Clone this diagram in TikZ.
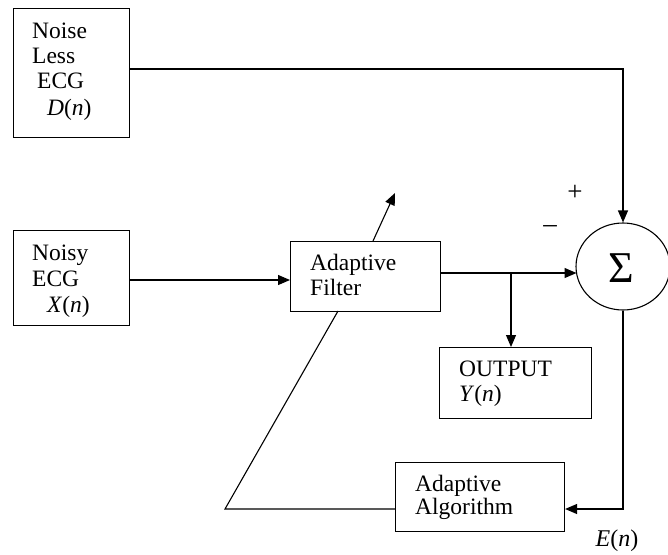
\documentclass[tikz,border=0pt]{standalone}
\usepackage{fontspec}
\setmainfont{Liberation Serif}
\usetikzlibrary{arrows.meta,shapes.geometric}
\begin{document}
\begin{tikzpicture}[x=1pt,y=-1pt,
  box/.style={draw,line width=1.1pt,inner sep=0pt,anchor=north west},
  lbl/.style={anchor=base west,inner sep=0pt,font=\fontsize{23.5}{25}\selectfont},
  ln/.style={line width=1.1pt},
  arr/.style={line width=1.1pt,-{Triangle[length=12pt,width=10pt]}}]
\useasboundingbox (0,0) rectangle (668,554);
% boxes
\node[box,minimum width=116pt,minimum height=129pt] (nl) at (13,8) {};
\node[box,minimum width=116pt,minimum height=95pt] (nx) at (13,230) {};
\node[box,minimum width=150pt,minimum height=70pt] (af) at (290,241) {};
\node[box,minimum width=152pt,minimum height=71pt] (out) at (439,347) {};
\node[box,minimum width=169pt,minimum height=69pt] (alg) at (395,462) {};
\node[draw,ellipse,line width=1.1pt,minimum width=94pt,minimum height=87pt,inner sep=0pt] (sum) at (623,266.5) {};
% texts
\node[lbl] (t1) at (32,38) {Noise};
\node[lbl] (t2) at (32,63) {Less};
\node[lbl] (t3) at (37,88) {ECG};
\node[lbl] (t4) at (47,115) {\textit{D}(\textit{n})};
\node[lbl] (t5) at (32,260) {Noisy};
\node[lbl] (t6) at (32,286) {ECG};
\node[lbl] (t7) at (47,312) {\textit{X}(\textit{n})};
\node[lbl] (t8) at (310,270) {Adaptive};
\node[lbl] (t9) at (310,295) {Filter};
\node[lbl] (t10) at (459,376) {OUTPUT};
\node[lbl] (t11) at (459,401) {\textit{Y}(\textit{n})};
\node[lbl] (t12) at (415,491) {Adaptive};
\node[lbl] (t13) at (415,514) {Algorithm};
\node[inner sep=0pt,font=\fontsize{44}{44}\selectfont] (sg) at (621,268) {Σ};
\node[inner sep=0pt,font=\fontsize{27}{27}\selectfont] (plus) at (575,193) {+};
\node[inner sep=0pt,font=\fontsize{27}{27}\selectfont] (minus) at (550,229) {–};
\node[inner sep=0pt,font=\fontsize{24}{24}\selectfont] (en) at (617,541) {\textit{E}(\textit{n})};
% helper coordinates
\coordinate (c1) at (623,69);
\coordinate (c2) at (0,280);
\coordinate (j) at (511,273);
\coordinate (ft) at (373,241);
\coordinate (tip) at (395,193);
\coordinate (fb) at (338,311);
\coordinate (bl) at (225,509);
\coordinate (br) at (623,509);
% connectors
\draw[arr] (nl.east |- c1) -- (c1) -- (sum.north);
\draw[arr] (nx.east |- c2) -- (af.west |- c2);
\draw[arr] (af.east |- j) -- (576.5,273);
\draw[arr] (j) -- (out.north -| j);
\draw[arr] (ft) -- (tip);
\draw[ln] (fb) -- (bl) -- (alg.west |- bl);
\draw[arr] (sum.south) -- (br) -- (alg.east |- br);
\end{tikzpicture}
\end{document}
